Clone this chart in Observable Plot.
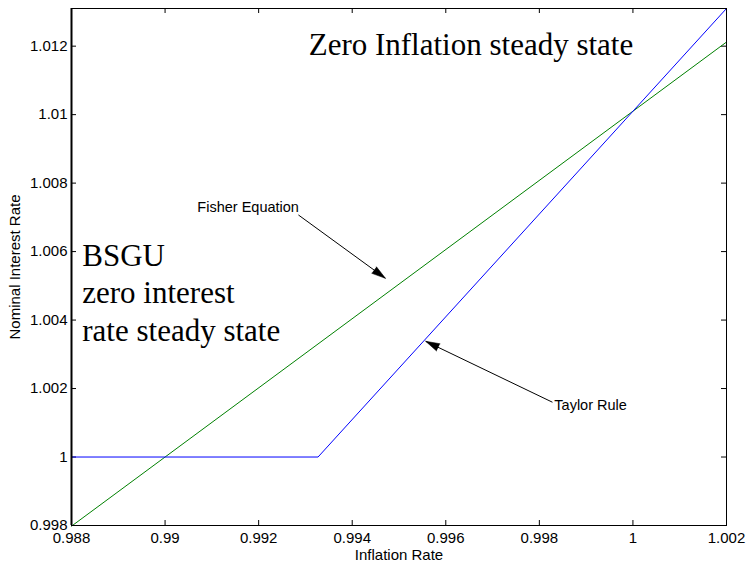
<!DOCTYPE html>
<html><head><meta charset="utf-8">
<script src="https://cdn.jsdelivr.net/npm/d3@7"></script>
<script src="https://cdn.jsdelivr.net/npm/@observablehq/plot@0.6"></script>
<style>body{margin:0;background:#fff} svg text{font-family:'Liberation Sans',Arial,Helvetica,sans-serif}</style>
</head><body><div id="chart"></div>
<script>
// Data
const fisherInflation = [0.988, 1.002];
const fisherRate = [0.99798, 1.01212];
const taylorInflation = [0.988, 0.99327, 1.002];
const taylorRate = [1.0, 1.0, 1.0131];
const xTicks = [0.988, 0.99, 0.992, 0.994, 0.996, 0.998, 1, 1.002];
const yTicks = [0.998, 1, 1.002, 1.004, 1.006, 1.008, 1.01, 1.012];
const xLabel = "Inflation Rate";
const yLabel = "Nominal Interest Rate";
const serifNotes = ["Zero Inflation steady state", "BSGU", "zero interest", "rate steady state"];
const serifNoteX = [0.99307, 0.98823, 0.98823, 0.98823];
const serifNoteY = [1.01175, 1.005575, 1.004493, 1.003381];
const arrowNotes = ["Fisher Equation", "Taylor Rule"];
const arrowNoteX = [0.99069, 0.99832];
const arrowNoteY = [1.00716, 1.00136];
const arrowFromX = [0.99285, 0.99828];
const arrowFromY = [1.00707, 1.00160];
const arrowToX = [0.99471, 0.99557];
const arrowToY = [1.00522, 1.00338];

const W = 747, H = 562, mL = 71, mR = 21, mT = 8, mB = 37;
const iW = W - mL - mR, iH = H - mT - mB;
const xDom = [0.988, 1.002], yDom = [0.998, 1.0131];
const kx = iW / (xDom[1] - xDom[0]), ky = iH / (yDom[1] - yDom[0]);

const fisher = fisherInflation.map((x, i) => ({x, y: fisherRate[i]}));
const taylor = taylorInflation.map((x, i) => ({x, y: taylorRate[i]}));
const serif = serifNotes.map((t, i) => ({t, x: serifNoteX[i], y: serifNoteY[i]}));
const sans = arrowNotes.map((t, i) => ({t, x: arrowNoteX[i], y: arrowNoteY[i]}));
const arrows = arrowFromX.map((x1, i) => {
  const x2 = arrowToX[i], y1 = arrowFromY[i], y2 = arrowToY[i];
  const dx = (x2 - x1) * kx, dy = -(y2 - y1) * ky;
  return {x1, y1, x2, y2, rot: Math.atan2(dx, -dy) * 180 / Math.PI};
});
const fmt = d => String(+d.toFixed(3));
const SANS = "'Liberation Sans', Arial, Helvetica, sans-serif";
const SERIF = "'Liberation Serif', 'Times New Roman', serif";

const chart = Plot.plot({
  width: W, height: H,
  marginLeft: mL, marginRight: mR, marginTop: mT, marginBottom: mB,
  style: {fontFamily: SANS, fontSize: "15px", background: "white", color: "black"},
  x: {domain: xDom, ticks: xTicks, tickFormat: fmt},
  y: {domain: yDom, ticks: yTicks, tickFormat: fmt},
  marks: [
    Plot.axisX({ticks: xTicks, tickFormat: fmt, tickSize: 0, tickPadding: 7, fontSize: 15, label: null}),
    Plot.axisY({ticks: yTicks, tickFormat: fmt, tickSize: 0, tickPadding: 4, fontSize: 15, label: null}),
    Plot.tickX(xTicks, {x: d => d, insetTop: iH - 5, stroke: "black"}),
    Plot.tickX(xTicks, {x: d => d, insetBottom: iH - 5, stroke: "black"}),
    Plot.tickY(yTicks, {y: d => d, insetRight: iW - 5, stroke: "black"}),
    Plot.tickY(yTicks, {y: d => d, insetLeft: iW - 5, stroke: "black"}),
    Plot.line(fisher, {x: "x", y: "y", stroke: "#008000", strokeWidth: 1}),
    Plot.line(taylor, {x: "x", y: "y", stroke: "#0000ff", strokeWidth: 1}),
    Plot.frame({stroke: "black", strokeWidth: 1}),
    Plot.ruleX([xDom[0]], {stroke: "black", strokeWidth: 2}),
    Plot.link(arrows, {x1: "x1", y1: "y1", x2: "x2", y2: "y2", stroke: "black", strokeWidth: 1}),
    Plot.vector(arrows, {x: "x2", y: "y2", rotate: "rot", length: 14, r: 4, shape: "spike", anchor: "end", fill: "black", stroke: "black", strokeWidth: 0.5}),
    Plot.text(serif, {x: "x", y: "y", text: "t", textAnchor: "start", lineAnchor: "bottom", fontFamily: SERIF, fontSize: 31, fill: "black"}),
    Plot.text(sans, {x: "x", y: "y", text: "t", textAnchor: "start", lineAnchor: "bottom", fontFamily: SANS, fontSize: 14.5, fill: "black"}),
    Plot.text([xLabel], {frameAnchor: "bottom", dy: 30, textAnchor: "middle", lineAnchor: "middle", fontSize: 15, fill: "black"}),
    Plot.text([yLabel], {frameAnchor: "left", dx: -56, rotate: -90, textAnchor: "middle", lineAnchor: "middle", fontSize: 15, fill: "black"})
  ]
});
document.getElementById("chart").appendChild(chart);
// serif text should not inherit the sans override
chart.querySelectorAll("text").forEach(t => {
  const g = t.closest("g[font-family]");
  if (g && g.getAttribute("font-family").includes("Serif")) t.style.fontFamily = SERIF;
});
</script>
</body></html>
